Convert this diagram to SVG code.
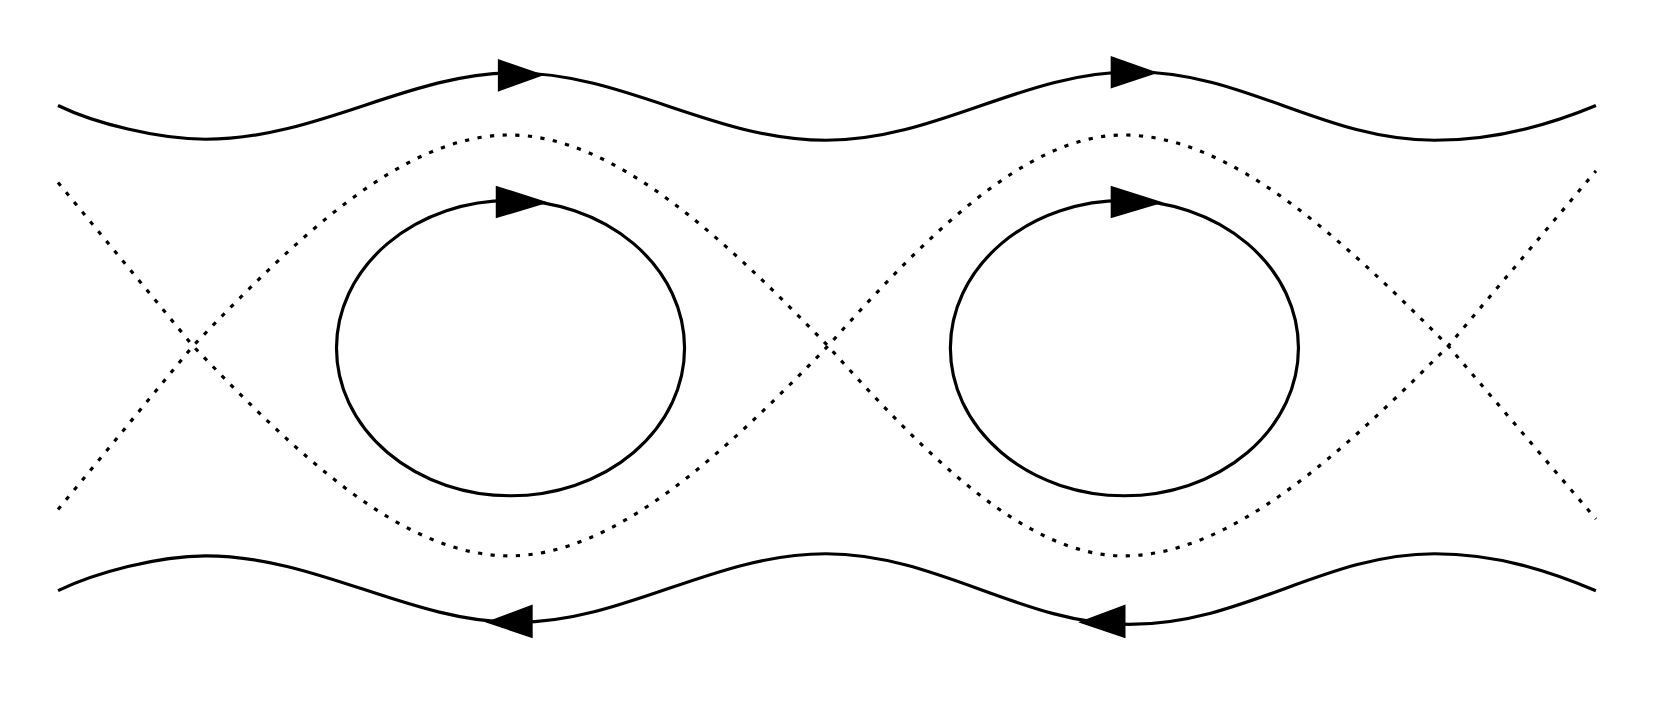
<svg xmlns="http://www.w3.org/2000/svg" width="1654" height="709" viewBox="0 0 1654 709">
<style>
.s{fill:none;stroke:#000;stroke-width:3}
.d{fill:none;stroke:#000;stroke-width:3;stroke-dasharray:4 8}
.a{fill:#000}
</style>
<rect width="1654" height="709" fill="#fff"/>
<g id="connectors" transform="scale(1.0548)">
<path class="s" d="M55,100 C90,117 150,132 195,132 C301,132 388,69 487,69 C592,69 677,133 783,133 C888,133 970,68 1075,68 C1180,68 1255,133 1360,133 C1420,133 1470,118 1513,100"/>
<path class="s" d="M55,560 C90,543 150,527 195,527 C301,527 388,590 490,590 C592,590 677,525 783,525 C888,525 970,592 1070,592 C1180,592 1255,525 1360,525 C1420,525 1470,542 1513,560"/>
<path class="d" d="M55,483 L183,328 C281,226 381,128 483,128 C583,128 686,226 785,328 C876,430 972,527 1065,527 C1167,527 1272,430 1373,328 L1513,162"/>
<path class="d" d="M55,173 L183,328 C281,430 381,527 483,527 C583,527 686,430 785,328 C876,226 972,128 1065,128 C1167,128 1272,226 1373,328 L1513,492"/>
<ellipse class="s" cx="484" cy="330" rx="165" ry="140"/>
<ellipse class="s" cx="1066" cy="330" rx="165" ry="140"/>
<polygon class="a" points="472,56 516,71 472,87"/>
<polygon class="a" points="1053,53 1098,69 1053,84"/>
<polygon class="a" points="470,176 520,192 470,207"/>
<polygon class="a" points="1053,176 1103,192 1053,207"/>
<polygon class="a" points="505,573 460,590 505,605"/>
<polygon class="a" points="1067,573 1022,590 1067,605"/>
</g>
</svg>
